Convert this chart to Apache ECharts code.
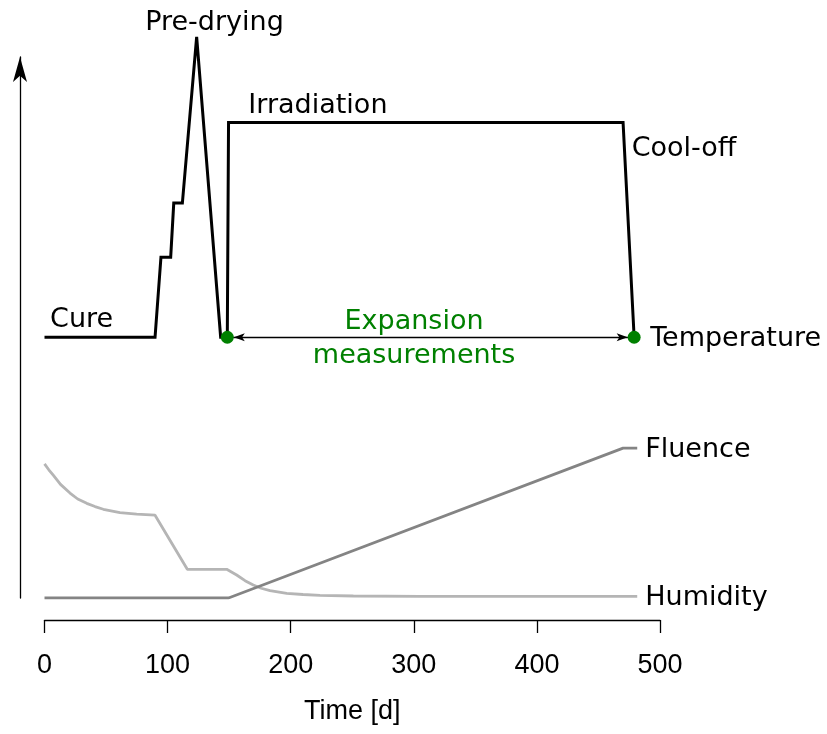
<!DOCTYPE html>
<html>
<head>
<meta charset="utf-8">
<script src="https://cdn.jsdelivr.net/npm/echarts@6/dist/echarts.min.js"></script>
<style>
  html, body { margin: 0; background: #fff; }
  #main { width: 827px; height: 734px; }
</style>
</head>
<body>
<div id="main"></div>
<script>
// time in days; y in arbitrary units (0 = foot of the y arrow, 100 = its tip)
const tempDays = [0, 89.8, 94.6, 102.5, 105, 112, 123.6, 143.1, 148.5, 149.5, 470, 479];
const tempVals = [48.2, 48.2, 63, 63, 73, 73, 103.7, 48.2, 48.2, 87.9, 87.9, 48.2];

const fluDays = [0, 149.5, 470, 481.5];
const fluVals = [0, 0, 27.7, 27.7];

const humDays = [0, 3.5, 7.1, 13, 20.7, 27, 34.3, 41, 47.8, 61.3, 74.9, 89.8, 116, 148, 156.1, 162.9, 169.6, 176, 183.2, 196.8, 210, 223.8, 250.9, 305, 481.5];
const humVals = [24.8, 23.7, 22.7, 21, 19.4, 18.3, 17.5, 16.9, 16.4, 15.8, 15.5, 15.3, 5.3, 5.3, 4.25, 3.2, 2.4, 1.8, 1.35, 0.87, 0.65, 0.5, 0.37, 0.31, 0.3];

// start / end of the expansion measurements
const measDays = [148.5, 479];
const measVal = 48.2;

const xTicks = [0, 100, 200, 300, 400, 500];

// phase annotations
const annoText = ['Cure', 'Pre-drying', 'Irradiation', 'Cool-off', 'Expansion\nmeasurements'];
const annoDays = [4.5, 138.1, 165.6, 477, 300.2];
const annoVals = [51.35, 106.35, 91, 83.05, 47.9];
const annoAlign = ['left', 'center', 'left', 'left', 'center'];

const zip = (xs, ys) => xs.map((x, i) => [x, ys[i]]);

const chart = echarts.init(document.getElementById('main'));

const textFont = 'DejaVu Sans';
const green = '#008000';

function endLabel(dist) {
  return {
    show: true, formatter: '{a}', distance: dist, offset: [0, 2],
    color: '#000', fontSize: 27, fontFamily: textFont
  };
}

chart.setOption({
  animation: false,
  grid: { left: 44.5, right: 167, top: 57, bottom: 136 },
  xAxis: {
    type: 'value',
    min: 0,
    max: 500,
    interval: 100,
    offset: 22,
    splitLine: { show: false },
    axisLine: { onZero: false, lineStyle: { color: '#000', width: 1.3 } },
    axisTick: { length: 13, lineStyle: { color: '#000', width: 1.3 } },
    axisLabel: {
      margin: 32,
      color: '#000',
      fontSize: 27,
      fontFamily: 'Liberation Sans',
      formatter: v => (xTicks.indexOf(v) >= 0 ? String(v) : '')
    },
    name: 'Time [d]',
    nameLocation: 'middle',
    nameGap: 78,
    nameTextStyle: { color: '#000', fontSize: 27, fontFamily: 'Liberation Sans' }
  },
  yAxis: {
    type: 'value',
    min: 0,
    max: 100,
    offset: 24.5,
    splitLine: { show: false },
    axisTick: { show: false },
    axisLabel: { show: false },
    axisLine: {
      show: true,
      onZero: false,
      symbol: ['none', 'arrow'],
      symbolSize: [10.5, 25],
      lineStyle: { color: '#000', width: 1.3 }
    }
  },
  series: [
    {
      name: 'Humidity',
      type: 'line',
      data: zip(humDays, humVals),
      showSymbol: false,
      lineStyle: { color: '#b5b5b5', width: 2.8 },
      itemStyle: { color: '#b5b5b5' },
      endLabel: endLabel(8)
    },
    {
      name: 'Fluence',
      type: 'line',
      data: zip(fluDays, fluVals),
      showSymbol: false,
      lineStyle: { color: '#848484', width: 2.8 },
      itemStyle: { color: '#848484' },
      endLabel: endLabel(8)
    },
    {
      name: 'Temperature',
      type: 'line',
      data: zip(tempDays, tempVals),
      showSymbol: false,
      clip: false,
      lineStyle: { color: '#000', width: 3, join: 'miter' },
      itemStyle: { color: '#000' },
      endLabel: endLabel(16)
    },
    {
      name: 'Measurements',
      type: 'scatter',
      data: measDays.map(d => [d, measVal]),
      symbolSize: 13,
      itemStyle: { color: green, opacity: 1 },
      z: 5,
      markLine: {
        silent: true,
        symbol: ['arrow', 'arrow'],
        symbolSize: [6, 11],
        symbolOffset: [[0, 6.5], [0, 6.5]],
        label: { show: false },
        lineStyle: { color: '#000', width: 1.3, type: 'solid', opacity: 1 },
        data: [[{ coord: [measDays[0], measVal] }, { coord: [measDays[1], measVal] }]]
      }
    },
    {
      name: 'Annotations',
      type: 'scatter',
      clip: false,
      silent: true,
      symbolSize: 1,
      itemStyle: { color: 'transparent', opacity: 1 },
      data: annoText.map((t, i) => ({
        value: [annoDays[i], annoVals[i]],
        label: {
          show: true,
          position: 'inside',
          align: annoAlign[i],
          verticalAlign: 'middle',
          formatter: t,
          fontSize: 27,
          lineHeight: 34,
          fontFamily: textFont,
          textBorderWidth: 0,
          color: i === 4 ? green : '#000'
        }
      }))
    }
  ]
});
</script>
</body>
</html>
